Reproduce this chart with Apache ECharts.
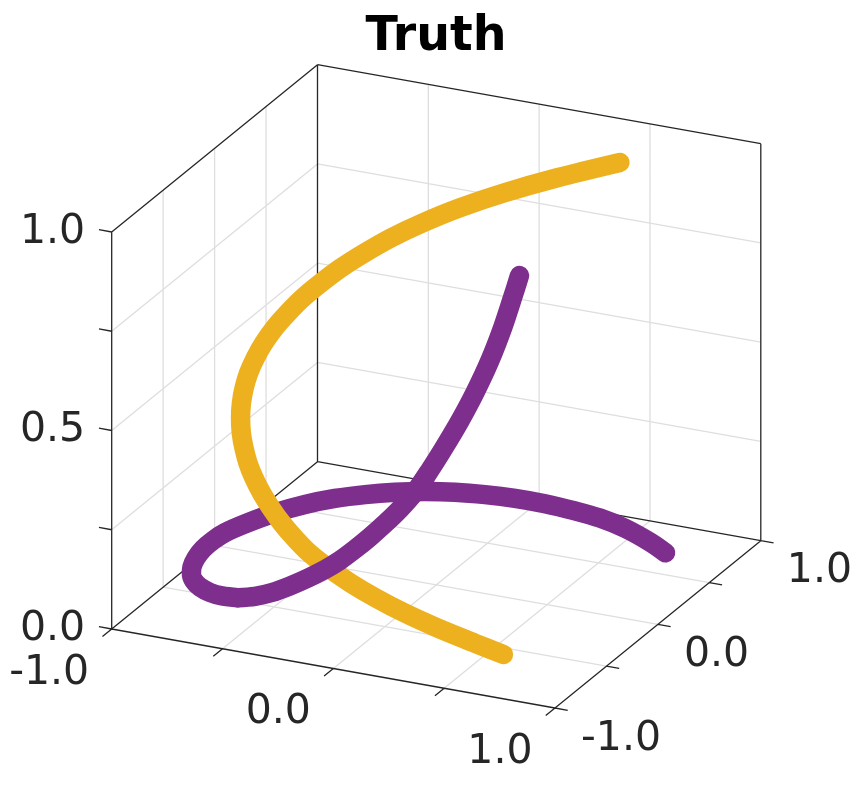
<!DOCTYPE html>
<html>
<head>
<meta charset="utf-8">
<style>html,body{margin:0;padding:0;background:#fff}#c{width:853px;height:796px}</style>
<script src="https://cdn.jsdelivr.net/npm/echarts@6/dist/echarts.min.js"></script>
</head>
<body>
<div id="c"></div>
<script>
const titleText = 'Truth';
const xTicks = [-1, -0.5, 0, 0.5, 1];
const yTicks = [-1, -0.5, 0, 0.5, 1];
const zTicks = [0, 0.25, 0.5, 0.75, 1];
const xTickLabels = ['-1.0', '', '0.0', '', '1.0'];
const yTickLabels = ['-1.0', '', '0.0', '', '1.0'];
const zTickLabels = ['0.0', '', '0.5', '', '1.0'];

const purpleX = [0.775,0.669,0.513,0.374,0.249,0.105,-0.030,-0.158,-0.280,-0.394,-0.502,-0.602,-0.696,-0.779,-0.852,-0.913,-0.947,-0.956,-0.954,-0.939,-0.913,-0.883,-0.842,-0.792,-0.730,-0.670,-0.603,-0.537,-0.483,-0.428,-0.379,-0.319,-0.269,-0.228,-0.192,-0.143,-0.118,-0.086,-0.058,-0.021,0.027,0.063,0.081,0.103,0.117,0.147];
const purpleY = [0.559,0.637,0.729,0.785,0.812,0.830,0.830,0.814,0.785,0.740,0.680,0.605,0.514,0.403,0.268,0.108,-0.014,-0.111,-0.212,-0.312,-0.407,-0.477,-0.541,-0.590,-0.626,-0.639,-0.628,-0.604,-0.557,-0.500,-0.429,-0.394,-0.356,-0.298,-0.230,-0.191,-0.098,-0.022,0.064,0.131,0.174,0.241,0.347,0.426,0.503,0.492];
const purpleZ = [0.04,0.04,0.04,0.04,0.04,0.04,0.04,0.04,0.04,0.04,0.04,0.04,0.04,0.04,0.04,0.04,0.04,0.04,0.04,0.04,0.04,0.04,0.04,0.04,0.04,0.04,0.04,0.045,0.05,0.06,0.07,0.09,0.11,0.13,0.15,0.18,0.20,0.23,0.27,0.32,0.38,0.44,0.50,0.57,0.64,0.69];

const yellowX = [0.566,0.450,0.299,0.164,0.044,-0.062,-0.158,-0.242,-0.310,-0.370,-0.424,-0.471,-0.513,-0.548,-0.576,-0.599,-0.615,-0.625,-0.628,-0.625,-0.613,-0.595,-0.568,-0.533,-0.490,-0.437,-0.375,-0.302,-0.216,-0.114,0.011,0.161,0.346,0.564];
const yellowY = [-0.566,-0.594,-0.631,-0.659,-0.682,-0.697,-0.708,-0.712,-0.710,-0.704,-0.694,-0.682,-0.667,-0.649,-0.628,-0.604,-0.577,-0.547,-0.514,-0.477,-0.437,-0.394,-0.347,-0.295,-0.240,-0.181,-0.118,-0.049,0.027,0.109,0.203,0.309,0.431,0.570];
const yellowZ = [0,0.023,0.054,0.084,0.115,0.145,0.176,0.206,0.237,0.267,0.298,0.328,0.359,0.389,0.420,0.450,0.481,0.511,0.542,0.572,0.603,0.633,0.664,0.694,0.725,0.755,0.786,0.816,0.847,0.877,0.908,0.938,0.969,1.0];

// orthographic view of the 3D box onto the page plane
const view = {ox:111.7, oy:629, ux:443.3, uy:79, vx:205.8, vy:-167.3, zy:-397};
function project(x, y, z) {
  const u = (x + 1) / 2, v = (y + 1) / 2;
  return [view.ox + view.ux*u + view.vx*v, view.oy + view.uy*u + view.vy*v + view.zy*z];
}
const gap = ['-', '-'];
function path3(xs, ys, zs, from, to) {
  const out = [];
  for (let i = from; i <= to; i++) out.push(project(xs[i], ys[i], zs[i]));
  return out;
}
const segs = list => list.flatMap(s => [project(...s[0]), project(...s[1]), gap]);

// grid
const gridSegs = [];
xTicks.slice(1,-1).forEach(t => { gridSegs.push([[t,-1,0],[t,1,0]], [[t,1,0],[t,1,1]]); });
yTicks.slice(1,-1).forEach(t => { gridSegs.push([[-1,t,0],[1,t,0]], [[-1,t,0],[-1,t,1]]); });
zTicks.slice(1,-1).forEach(t => { gridSegs.push([[-1,-1,t],[-1,1,t]], [[-1,1,t],[1,1,t]]); });

// box
const boxSegs = [
  [[-1,-1,0],[1,-1,0]], [[1,-1,0],[1,1,0]], [[1,1,0],[-1,1,0]], [[-1,1,0],[-1,-1,0]],
  [[-1,-1,0],[-1,-1,1]], [[-1,1,0],[-1,1,1]], [[1,1,0],[1,1,1]],
  [[-1,-1,1],[-1,1,1]], [[-1,1,1],[1,1,1]]
];
const tickX = 0.0575, tickY = 0.09;
xTicks.forEach(t => boxSegs.push([[t,-1,0],[t,-1-tickY,0]]));
yTicks.forEach(t => boxSegs.push([[1,t,0],[1+tickX,t,0]]));
zTicks.forEach(t => boxSegs.push([[-1,-1,t],[-1-tickX,-1,t]]));

const labelFont = {fontFamily:'DejaVu Sans', fontSize:41, color:'#262626'};
function labelSeries(points, align, dx, dy) {
  return {
    type:'scatter', symbolSize:1, itemStyle:{color:'transparent', opacity:1}, silent:true,
    data: points.filter(p => p[2] !== ''),
    label:{show:true, position:'inside', align, verticalAlign:'middle', offset:[dx,dy],
      formatter:p => p.value[2], ...labelFont}
  };
}
const curve = (data, color) => ({
  type:'line', data, smooth:0.33, symbol:'none', silent:true,
  lineStyle:{color, width:19.5, cap:'round', join:'round'}
});
const rule = (list, color) => ({
  type:'line', data:segs(list), symbol:'none', silent:true, connectNulls:false,
  lineStyle:{color, width:1.3}
});

const splitAt = 26;
const option = {
  animation:false,
  backgroundColor:'#fff',
  title:{text:titleText, left:431, top:9, textAlign:'center',
    textStyle:{fontFamily:'DejaVu Sans', fontWeight:'bold', fontSize:47.5, color:'#000'}},
  grid:{left:0, right:0, top:0, bottom:0},
  xAxis:{type:'value', min:0, max:853, show:false},
  yAxis:{type:'value', min:0, max:796, inverse:true, show:false},
  series:[
    rule(gridSegs, '#dedede'),
    rule(boxSegs, '#262626'),
    curve(path3(purpleX,purpleY,purpleZ,0,splitAt), '#7E2F8E'),
    curve(path3(yellowX,yellowY,yellowZ,0,yellowX.length-1), '#EDB120'),
    curve(path3(purpleX,purpleY,purpleZ,splitAt,purpleX.length-1), '#7E2F8E'),
    labelSeries(xTicks.map((t,i) => [...project(t,-1,0), xTickLabels[i]]), 'right', -22.5, 44),
    labelSeries(yTicks.map((t,i) => [...project(1,t,0), yTickLabels[i]]), 'left', 26, 31),
    labelSeries(zTicks.map((t,i) => [...project(-1,-1,t), zTickLabels[i]]), 'right', -26.5, 0)
  ]
};
echarts.init(document.getElementById('c'), null, {renderer:'canvas'}).setOption(option);
</script>
</body>
</html>
